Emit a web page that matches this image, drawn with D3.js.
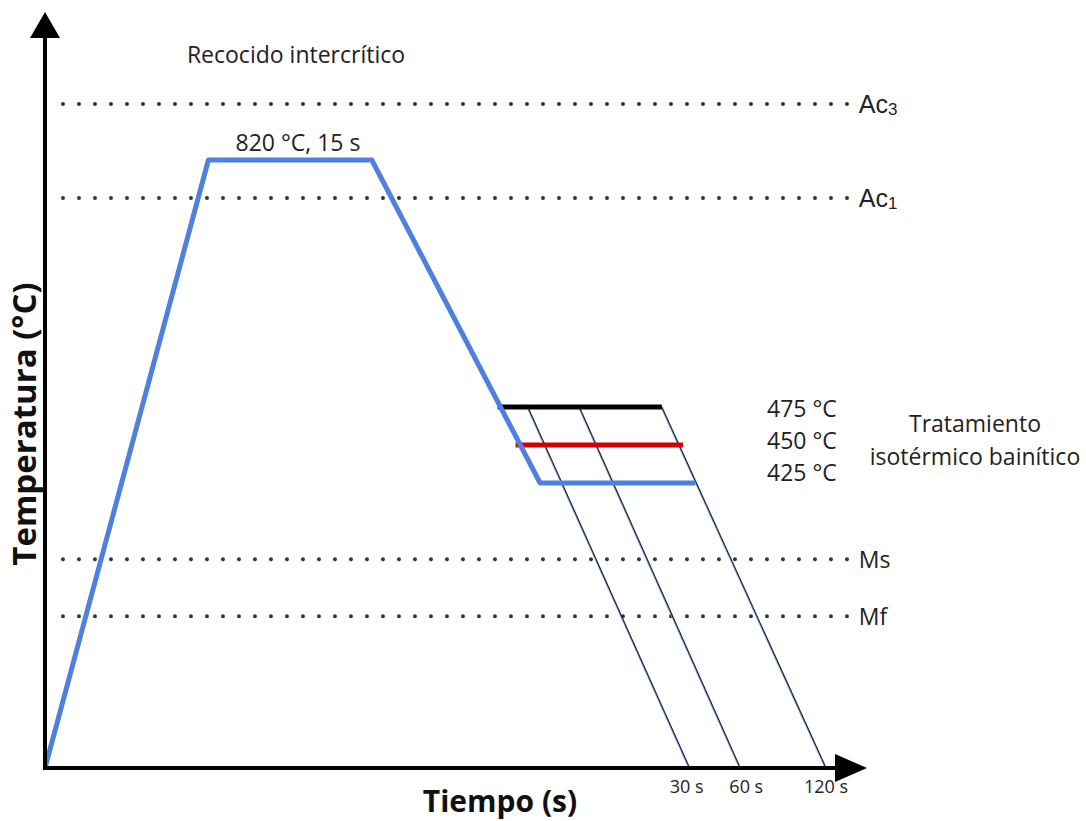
<!DOCTYPE html>
<html>
<head>
<meta charset="utf-8">
<script src="https://cdn.jsdelivr.net/npm/d3@7"></script>
<style>
  body { margin: 0; background: #fff; }
  text { font-family: "Open Sans", "Noto Sans", sans-serif; fill: #222; }
</style>
</head>
<body>
<div id="chart"></div>
<script>
// schematic time units (0-100) and temperatures (°C)
var profileTime = [0, 20, 40, 60.6, 79.6];
var profileTemp = [25, 820, 820, 425, 425];

var isoTemps = [475, 450];
var isoStart = [55.4, 57.6];
var isoEnd = [75.5, 78.1];
var isoColors = ["#000000", "#d40000"];
var isoLabels = ["475 °C", "450 °C", "425 °C"];

// cooling after holding
var holdLabels = ["30 s", "60 s", "120 s"];
var holdStart = [59.1, 65.4, 75.5];   // on the 475 °C line
var holdEnd = [78.9, 85.1, 95.6];     // on the time axis

var critNames = ["Ac", "Ac", "Ms", "Mf"];
var critSubs = ["3", "1", "", ""];
var critTemps = [900, 767, 318, 238];

var width = 1086, height = 821;

var svg = d3.select("#chart")
    .append("svg")
    .attr("width", width)
    .attr("height", height);

var x = d3.scaleLinear()
    .domain([0, 100])
    .range([45, 862]);

// schematic (non linear) temperature axis
var y = d3.scaleLinear()
    .domain([25, 425, 475, 820, 900])
    .range([768, 483, 407, 160, 104]);

// dotted critical temperature lines
svg.append("g")
    .selectAll("line")
    .data(critTemps)
    .enter()
    .append("line")
    .attr("x1", x(2.2))
    .attr("x2", x(98.5))
    .attr("y1", function(d) { return y(d) })
    .attr("y2", function(d) { return y(d) })
    .attr("stroke", "#333")
    .attr("stroke-width", 4)
    .attr("stroke-linecap", "round")
    .attr("stroke-dasharray", "0,16");

var crit = svg.append("g")
    .selectAll("text")
    .data(critTemps)
    .enter()
    .append("text")
    .attr("x", x(99.6))
    .attr("y", function(d) { return y(d) + 9 })
    .style("font-size", function(d, i) { return i < 2 ? "25px" : "23px" })
    .style("font-family", function(d, i) { return i < 2 ? "'Liberation Sans', Arial, sans-serif" : null });
crit.append("tspan")
    .text(function(d, i) { return critNames[i] });
crit.append("tspan")
    .attr("dy", 2)
    .style("font-size", "17px")
    .text(function(d, i) { return critSubs[i] });

// thin cooling lines after the isothermal holds
var line = d3.line()
    .x(function(d) { return x(d[0]) })
    .y(function(d) { return y(d[1]) });

holdStart.forEach(function(t, i) {
    svg.append("path")
        .attr("d", line([[t, 475], [holdEnd[i], 25]]))
        .attr("transform", "translate(-1,0)")
        .attr("fill", "none")
        .attr("stroke", "#6fb0e8")
        .attr("stroke-width", 1);
    svg.append("path")
        .attr("d", line([[t, 475], [holdEnd[i], 25]]))
        .attr("fill", "none")
        .attr("stroke", "#1c1c3c")
        .attr("stroke-width", 1.2);
});

// isothermal holds
isoTemps.forEach(function(temp, i) {
    svg.append("path")
        .attr("d", line([[isoStart[i], temp], [isoEnd[i], temp]]))
        .attr("stroke", isoColors[i])
        .attr("stroke-width", 5);
});

// main blue profile
svg.append("path")
    .datum(profileTime)
    .attr("fill", "none")
    .attr("stroke", "#4f80e0")
    .attr("stroke-width", 5)
    .attr("stroke-linejoin", "round")
    .attr("d", d3.line()
        .x(function(d) { return x(d) })
        .y(function(d, i) { return y(profileTemp[i]) })
    );

// axes with arrows
svg.append("line")
    .attr("x1", x(0)).attr("y1", y(25) + 2)
    .attr("x2", x(0)).attr("y2", 30)
    .attr("stroke", "#000").attr("stroke-width", 4);
svg.append("path")
    .attr("d", d3.line()([[x(0), 12], [x(0) - 15, 38], [x(0) + 15, 38]]))
    .attr("fill", "#000");

svg.append("line")
    .attr("x1", x(0) - 2).attr("y1", y(25))
    .attr("x2", 845).attr("y2", y(25))
    .attr("stroke", "#000").attr("stroke-width", 4);
svg.append("path")
    .attr("d", d3.line()([[867, y(25)], [835, y(25) - 14], [835, y(25) + 14]]))
    .attr("fill", "#000");

// hold time labels
svg.append("g")
    .selectAll("text")
    .data(holdEnd)
    .enter()
    .append("text")
    .attr("x", function(d) { return x(d) })
    .attr("dx", function(d, i) { return i == 1 ? 6 : (i == 0 ? -3 : 0) })
    .attr("y", 793)
    .attr("text-anchor", "middle")
    .style("font-size", "18px")
    .text(function(d, i) { return holdLabels[i] });

// isotherm temperature labels
svg.append("g")
    .selectAll("text")
    .data(isoLabels)
    .enter()
    .append("text")
    .attr("x", 767)
    .attr("y", function(d, i) { return 417 + i * 32 })
    .style("font-size", "23px")
    .text(function(d) { return d });

svg.append("text")
    .attr("x", 975).attr("y", 432)
    .attr("text-anchor", "middle")
    .style("font-size", "23px")
    .text("Tratamiento");
svg.append("text")
    .attr("x", 975).attr("y", 465)
    .attr("text-anchor", "middle")
    .style("font-size", "23px")
    .text("isotérmico bainítico");

svg.append("text")
    .attr("x", 296).attr("y", 63)
    .attr("text-anchor", "middle")
    .style("font-size", "23px")
    .text("Recocido intercrítico");

svg.append("text")
    .attr("x", 298).attr("y", 151)
    .attr("text-anchor", "middle")
    .style("font-size", "23px")
    .text("820 °C, 15 s");

// axis titles
svg.append("text")
    .attr("transform", "translate(36,424) rotate(-90)")
    .attr("text-anchor", "middle")
    .style("font-size", "33px")
    .style("font-weight", "bold")
    .style("fill", "#111")
    .text("Temperatura (°C)");

svg.append("text")
    .attr("x", 500).attr("y", 812)
    .attr("text-anchor", "middle")
    .style("font-size", "30px")
    .style("font-weight", "bold")
    .style("fill", "#111")
    .text("Tiempo (s)");
</script>
</body>
</html>
